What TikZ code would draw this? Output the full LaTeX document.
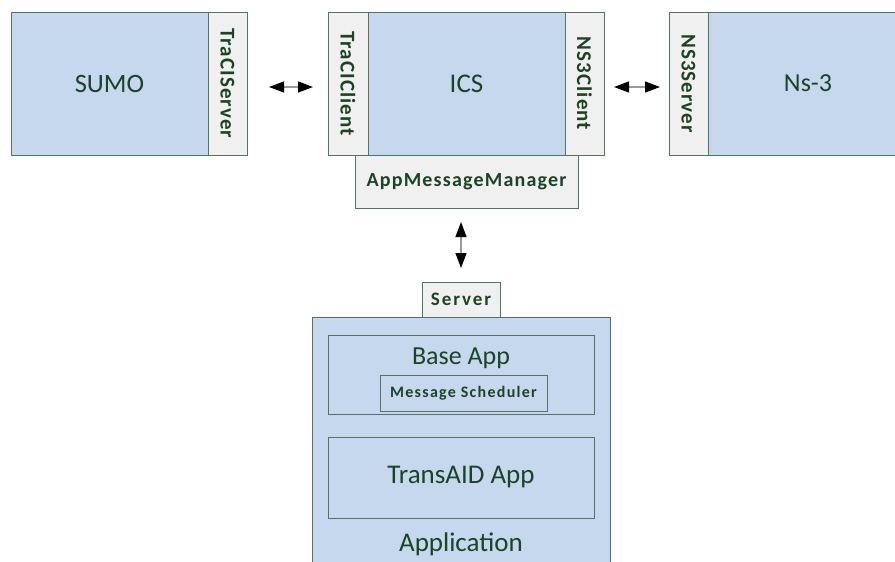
\documentclass[tikz,border=0pt]{standalone}
\usepackage{fontspec}
\usepackage{graphicx}
\setmainfont{Carlito}
\usetikzlibrary{arrows.meta}
\definecolor{bluef}{HTML}{C6D8EE}
\definecolor{greyf}{HTML}{F0F0F0}
\definecolor{edgec}{HTML}{55735E}
\definecolor{txtc}{HTML}{1C4424}
\tikzset{
  box/.style={draw=edgec, line width=0.9pt, inner sep=0pt, outer sep=0pt, anchor=north west, text=txtc},
  bluebox/.style={box, fill=bluef},
  greybox/.style={box, fill=greyf},
  frame/.style={box, fill=none},
  lbl/.style={text=txtc, inner sep=0pt},
  tipc/.tip={Triangle[width=11pt,length=15pt,color=black]},
  conn/.style={tipc-tipc, line width=1.2pt, draw=black!40},
}
\newcommand{\sidetext}[1]{\rotatebox[origin=c]{-90}{\fontsize{21}{21}\selectfont\bfseries\addfontfeature{LetterSpace=5}#1}}
\begin{document}
\begin{tikzpicture}[x=1pt,y=-1pt]
\useasboundingbox (0,0) rectangle (895,562);
% SUMO
\node[bluebox, minimum width=197pt, minimum height=143pt, font=\fontsize{26.5}{26}\selectfont] (sumo) at (11,12) {SUMO};
\node[greybox, minimum width=39pt, minimum height=143pt] (tserv) at (208,12) {\sidetext{TraCIServer}};
% ICS
\node[greybox, minimum width=40pt, minimum height=143pt] (tcli) at (328,12) {\sidetext{TraCIClient}};
\node[bluebox, minimum width=197pt, minimum height=143pt, font=\fontsize{27}{27}\selectfont] (ics) at (368,12) {ICS};
\node[greybox, minimum width=39pt, minimum height=143pt] (ncli) at (565,12) {\sidetext{NS3Client}};
\node[greybox, minimum width=223pt, minimum height=53pt, font=\fontsize{20}{20}\selectfont\bfseries\addfontfeature{LetterSpace=6}] (amm) at (355,155) {AppMessageManager};
% ns-3
\node[greybox, minimum width=39pt, minimum height=143pt] (nserv) at (669,12) {\sidetext{NS3Server}};
\node[bluebox, minimum width=200pt, minimum height=143pt] (ns3box) at (708,12) {};
\node[lbl, font=\fontsize{26}{26}\selectfont] (ns3) at (808,83.5) {Ns-3};
% Application
\node[greybox, minimum width=78pt, minimum height=35pt, font=\fontsize{19}{19}\selectfont\bfseries\addfontfeature{LetterSpace=10}] (server) at (422,282) {Server};
\node[bluebox, minimum width=298pt, minimum height=260pt] (app) at (312,317) {};
\node[frame, minimum width=266pt, minimum height=79pt] (base) at (328,335) {};
\node[lbl, font=\fontsize{26}{26}\selectfont] (baselbl) at (461,358) {Base App};
\node[frame, minimum width=167pt, minimum height=36pt, font=\fontsize{16}{16}\selectfont\bfseries\addfontfeature{LetterSpace=8}] (sched) at (380,375) {Message Scheduler};
\node[frame, minimum width=266pt, minimum height=81pt, font=\fontsize{27}{27}\selectfont] (trans) at (328,437) {TransAID App};
\node[lbl, font=\fontsize{27}{27}\selectfont] (applbl) at (461,544) {Application};
% connectors
\draw[conn] ([xshift=22pt,yshift=-3.5pt]tserv.east) -- ([xshift=-15pt,yshift=-3.5pt]tcli.west);
\draw[conn] ([xshift=10pt,yshift=-3.5pt]ncli.east) -- ([xshift=-9pt,yshift=-3.5pt]nserv.west);
\draw[conn] ([yshift=-14pt]server.north |- amm.south) -- ([yshift=14pt]server.north);
\end{tikzpicture}
\end{document}
